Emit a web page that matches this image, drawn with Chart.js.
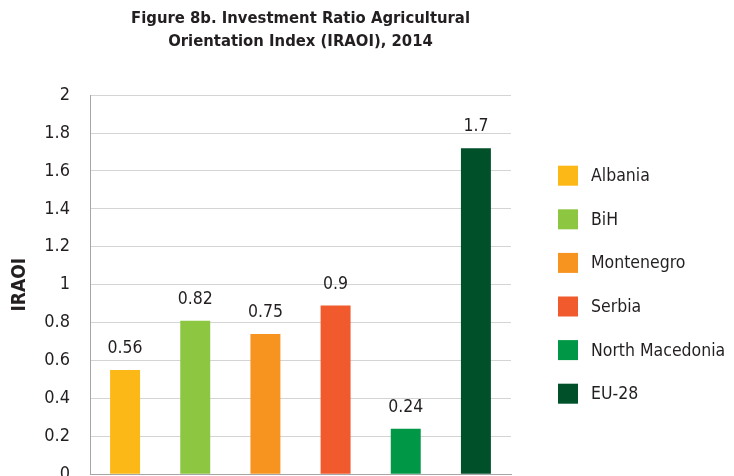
<!DOCTYPE html>
<html>
<head>
<meta charset="utf-8">
<script src="https://cdn.jsdelivr.net/npm/chart.js@4"></script>
<style>
  html, body { margin: 0; padding: 0; background: #fff; overflow: hidden; }
  #wrap { position: relative; width: 734px; height: 505px; }
</style>
</head>
<body>
<div id="wrap"><canvas id="iraoiChart"></canvas></div>
<script>
// data
const countries = ['Albania', 'BiH', 'Montenegro', 'Serbia', 'North Macedonia', 'EU-28'];
const iraoiValues = [0.55, 0.81, 0.74, 0.89, 0.24, 1.72];
const valueLabels = ['0.56', '0.82', '0.75', '0.9', '0.24', '1.7'];
const barColors = ['#FBB817', '#8DC641', '#F6941F', '#F05A2C', '#009846', '#00502A'];
const titleLines = ['Figure 8b. Investment Ratio Agricultural', 'Orientation Index (IRAOI), 2014'];

const FONT = '"DejaVu Sans Condensed", "DejaVu Sans", sans-serif';
const TEXT = '#231F20';

// numbers above the bars
const valueLabelPlugin = {
    id: 'valueLabels',
    afterDatasetsDraw(chart) {
        const ctx = chart.ctx;
        const meta = chart.getDatasetMeta(0);
        ctx.save();
        ctx.font = '17.5px ' + FONT;
        ctx.fillStyle = TEXT;
        ctx.textAlign = 'center';
        ctx.textBaseline = 'alphabetic';
        meta.data.forEach((bar, i) => {
            ctx.fillText(valueLabels[i], bar.x, bar.y - 17);
        });
        ctx.restore();
    }
};

// legend on the right, drawn in the space kept free by layout.padding.right
const sideLegendPlugin = {
    id: 'sideLegend',
    afterDraw(chart) {
        const ctx = chart.ctx;
        const area = chart.chartArea;
        const mid = (area.top + area.bottom) / 2;
        const step = 43.6;
        ctx.save();
        ctx.font = '17.5px ' + FONT;
        ctx.textAlign = 'left';
        ctx.textBaseline = 'middle';
        countries.forEach((c, i) => {
            const y = mid + (i - (countries.length - 1) / 2) * step;
            ctx.fillStyle = barColors[i];
            ctx.fillRect(area.right + 47, y - 10, 20, 20);
            ctx.fillStyle = TEXT;
            ctx.fillText(c, area.right + 80, y + 1);
        });
        ctx.restore();
    }
};

new Chart(document.getElementById('iraoiChart').getContext('2d'), {
    type: 'bar',
    data: {
        labels: countries,
        datasets: [{
            label: 'IRAOI',
            data: iraoiValues,
            backgroundColor: barColors,
            borderWidth: 0,
            barPercentage: 0.427,
            categoryPercentage: 1
        }]
    },
    options: {
        responsive: true,
        maintainAspectRatio: false,
        animation: false,
        layout: { padding: { left: 6, right: 223, top: 0, bottom: 0 } },
        scales: {
            x: {
                ticks: { display: false },
                grid: { display: false },
                border: { display: true, color: '#a6a6a6', width: 1 }
            },
            y: {
                min: 0,
                max: 2,
                afterFit: s => { s.width = 84; },
                ticks: {
                    stepSize: 0.2,
                    padding: 20,
                    color: TEXT,
                    font: { family: FONT, size: 18 },
                    callback: v => String(+v.toFixed(1))
                },
                grid: { color: '#d4d4d4', drawTicks: false },
                border: { color: '#a6a6a6', width: 1 },
                title: {
                    display: true,
                    text: 'IRAOI',
                    color: TEXT,
                    font: { family: FONT, size: 19, weight: 'bold' },
                    padding: { top: 3, bottom: 4 }
                }
            }
        },
        plugins: {
            title: {
                display: true,
                fullSize: false,
                text: titleLines,
                color: TEXT,
                font: { family: FONT, size: 16.5, weight: 'bold', lineHeight: 1.4 },
                padding: { top: 7, bottom: 42 }
            },
            legend: { display: false },
            tooltip: { enabled: false }
        }
    },
    plugins: [valueLabelPlugin, sideLegendPlugin]
});
</script>
</body>
</html>
